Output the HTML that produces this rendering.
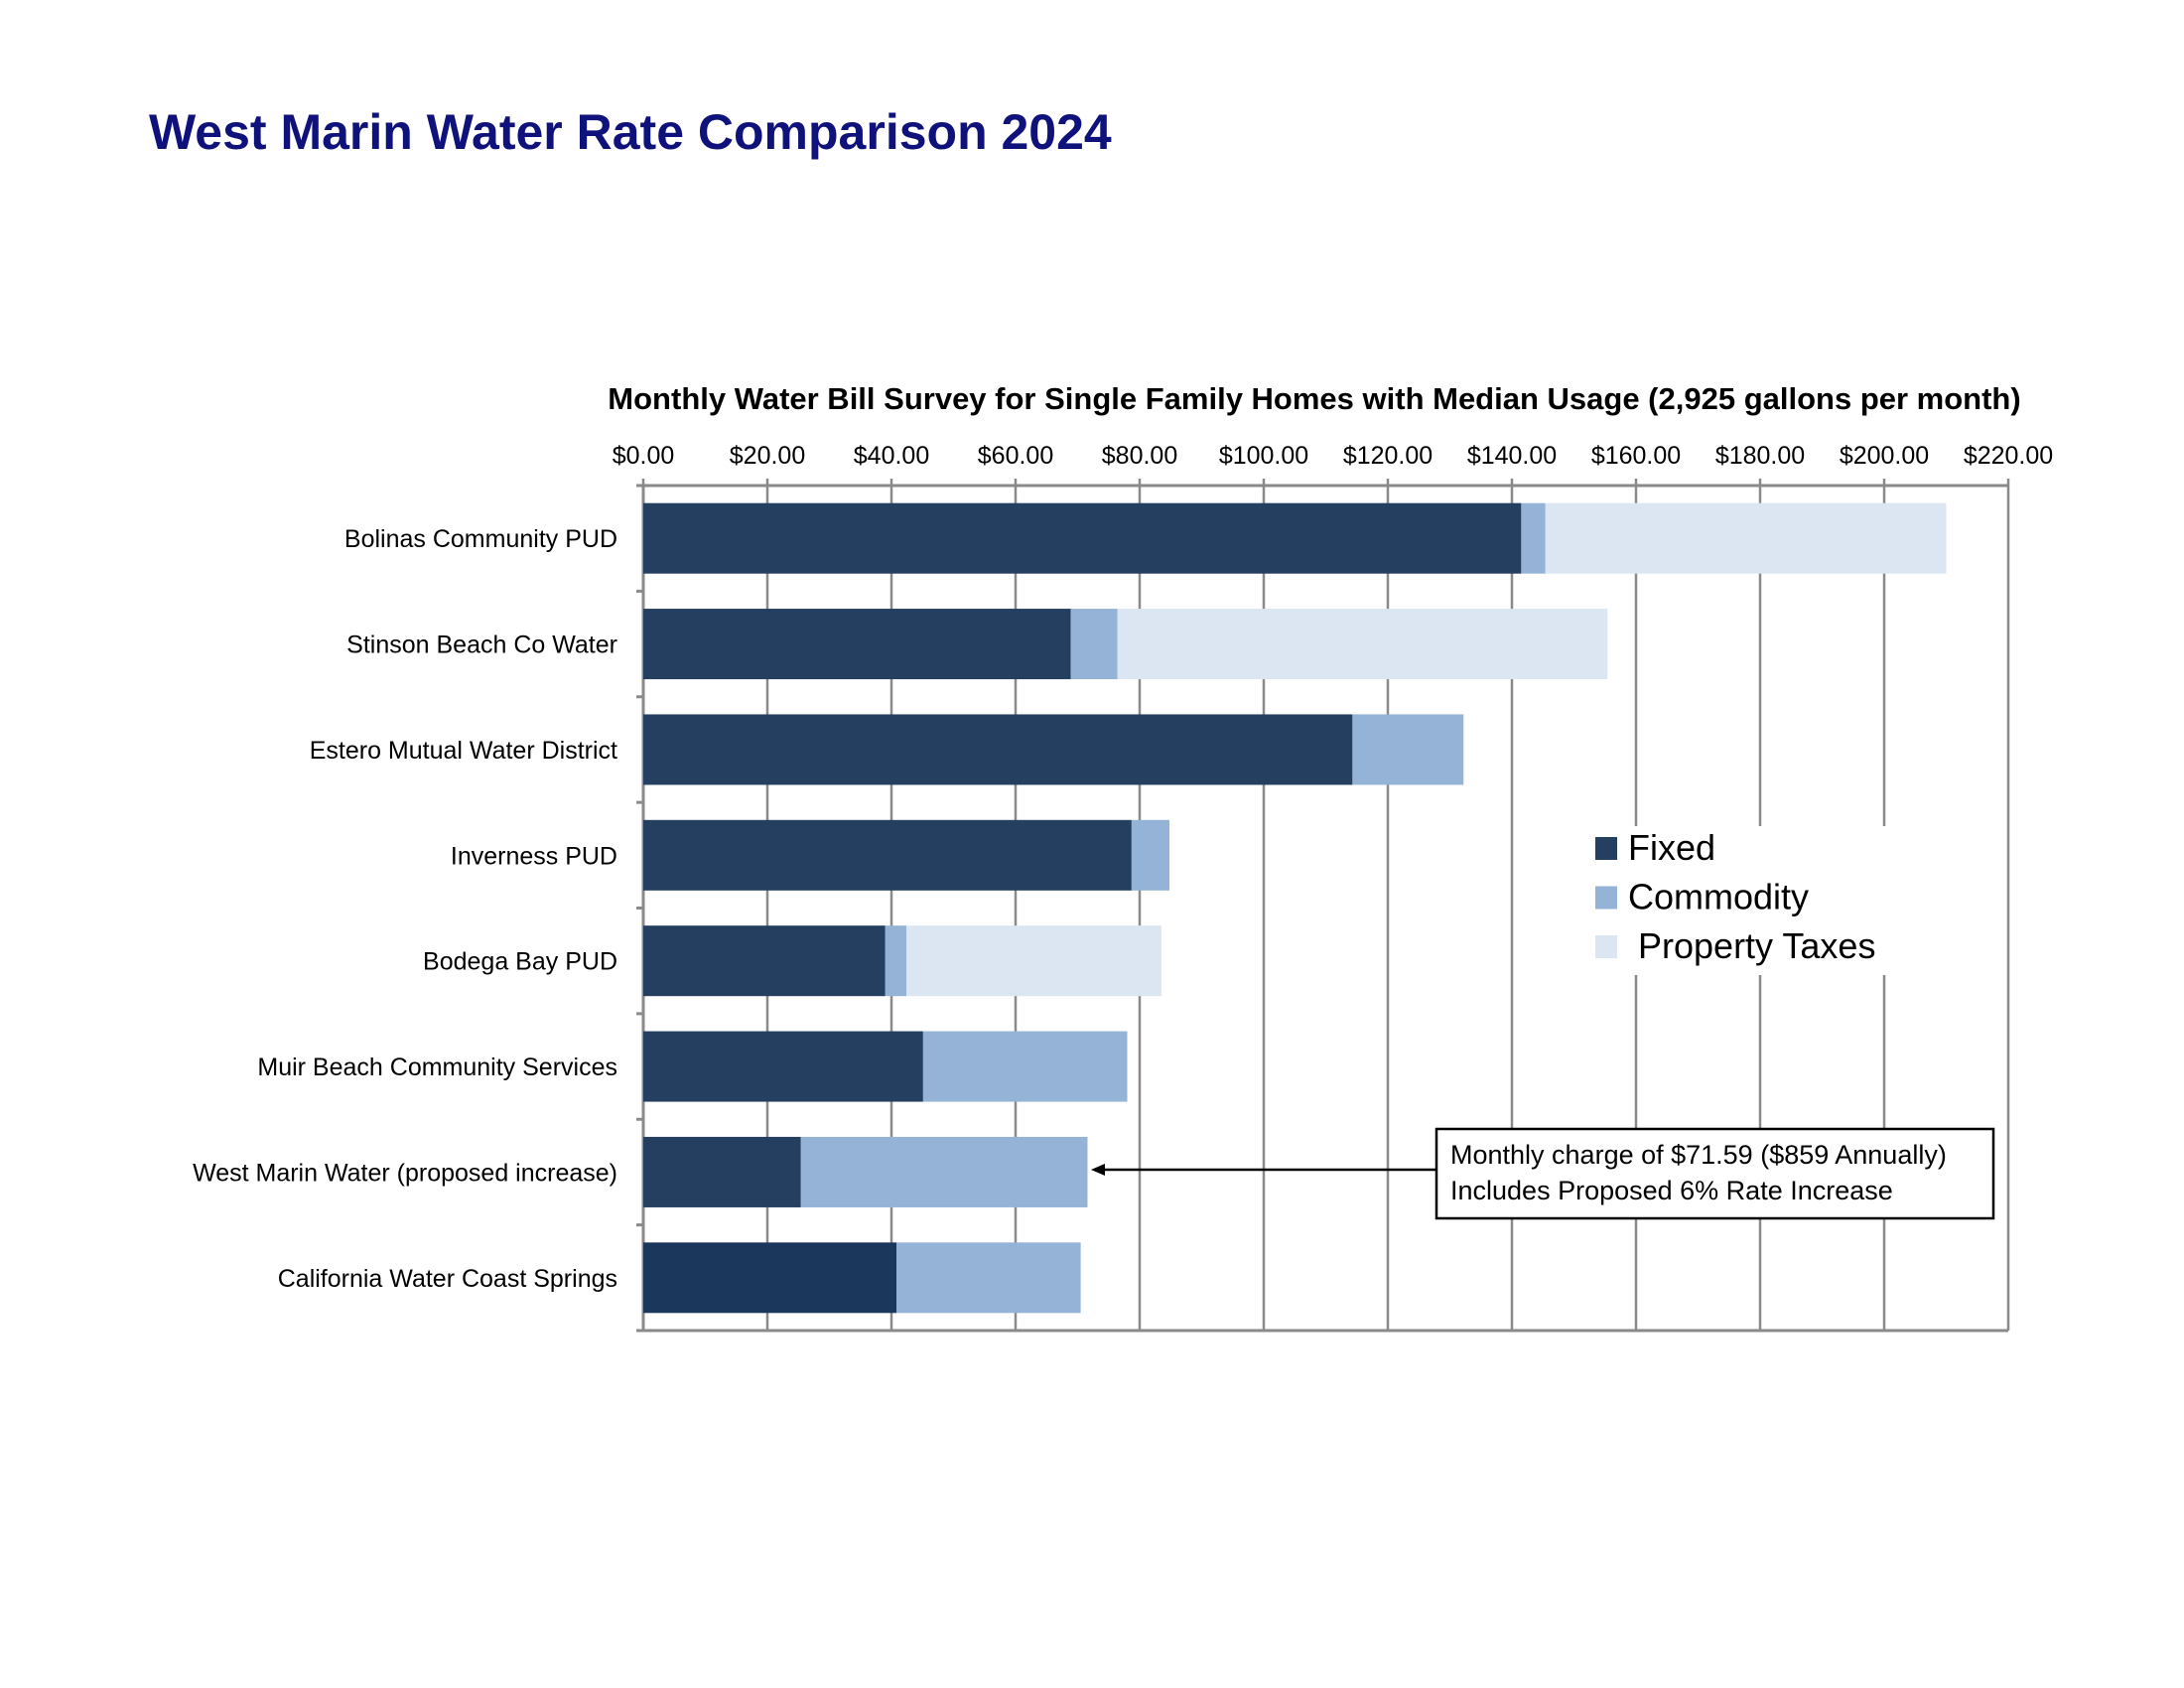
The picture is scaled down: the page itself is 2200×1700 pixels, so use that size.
<!DOCTYPE html>
<html><head><meta charset="utf-8">
<style>
html,body{margin:0;padding:0;background:#fff;}
body{width:2200px;height:1700px;position:relative;overflow:hidden;font-family:"Liberation Sans",sans-serif;}
#title{position:absolute;left:150px;top:105px;font-size:50px;font-weight:bold;color:#0f127a;margin:0;line-height:1.15;}
svg{position:absolute;left:0;top:0;}
</style></head><body>
<h1 id="title">West Marin Water Rate Comparison 2024</h1>
<svg id="chart" width="2200" height="1700"></svg>
<script>
const categories=["Bolinas Community PUD","Stinson Beach Co Water","Estero Mutual Water District","Inverness PUD","Bodega Bay PUD","Muir Beach Community Services","West Marin Water (proposed increase)","California Water Coast Springs"];
const fixedVals=[141.5,68.9,114.3,78.7,39.0,45.1,25.4,40.8];
const commodityVals=[3.9,7.5,17.9,6.1,3.4,32.9,46.2,29.7];
const taxVals=[64.6,79.0,0,0,41.1,0,0,0];
const ticks=[0,20,40,60,80,100,120,140,160,180,200,220];
const tickLabels=["$0.00","$20.00","$40.00","$60.00","$80.00","$100.00","$120.00","$140.00","$160.00","$180.00","$200.00","$220.00"];
const seriesNames=["Fixed","Commodity","Property Taxes"];

const NS="http://www.w3.org/2000/svg";
const svg=document.getElementById('chart');
const L=648,R=2023,T=489,B=1340,MAX=220;
const band=(B-T)/categories.length, barH=71;
const x=v=>L+(v/MAX)*(R-L);
const yb=i=>T+i*band+(band-barH)/2;
function el(tag,attrs,parent){const e=document.createElementNS(NS,tag);for(const k in attrs)e.setAttribute(k,attrs[k]);(parent||svg).appendChild(e);return e;}

const ct=el('text',{x:1324,y:412,'text-anchor':'middle','font-size':31,'font-weight':'bold',fill:'#000'});


ct.textContent="Monthly Water Bill Survey for Single Family Homes with Median Usage (2,925 gallons per month)";

ticks.forEach((t,i)=>{
  const g=el('line',{x1:x(t),x2:x(t),y1:T-7,y2:B,stroke:'#8a8a8a','stroke-width':2.5});
  
  
  const tl=el('text',{x:x(t),y:467,'text-anchor':'middle','font-size':25,fill:'#000'});
  
  
  tl.textContent=tickLabels[i];
});
const ax=el('line',{x1:L-6,x2:R,y1:T,y2:T,stroke:'#8a8a8a','stroke-width':3});


const bx=el('line',{x1:L-6,x2:R,y1:B,y2:B,stroke:'#8a8a8a','stroke-width':3});


const ay=el('line',{x1:L,x2:L,y1:T,y2:B,stroke:'#8a8a8a','stroke-width':3});


for(let i=0;i<=categories.length;i++){
  const tk=el('line',{x1:L-7,x2:L,y1:T+i*band,y2:T+i*band,stroke:'#8a8a8a','stroke-width':3});
  
  
}
categories.forEach((c,i)=>{
  const y=yb(i);
  const f=el('rect',{x:x(0),y:y,width:x(fixedVals[i])-x(0),height:barH,fill:i===7?'#1b375c':'#243f60'});
  
  
  const c1=fixedVals[i]+commodityVals[i];
  const m=el('rect',{x:x(fixedVals[i]),y:y,width:x(c1)-x(fixedVals[i]),height:barH,fill:'#95b3d7'});
  
  
  if(taxVals[i]>0){
    const p=el('rect',{x:x(c1),y:y,width:x(c1+taxVals[i])-x(c1),height:barH,fill:'#dce6f2'});
    
    
  }
  const lb=el('text',{x:622,y:y+barH/2+9,'text-anchor':'end','font-size':25,fill:'#000'});
  
  
  lb.textContent=c;
});

// legend
const lg=el('g',{});


el('rect',{x:1598,y:832,width:345,height:150,fill:'#fff'},lg);
const lcol=['#243f60','#95b3d7','#dce6f2'];
seriesNames.forEach((n,i)=>{
  const yy=843+i*49.5;
  const sw=el('rect',{x:1607,y:yy,width:22,height:23,fill:lcol[i]},lg);
  
  
  const t=el('text',{x:i===2?1650:1640,y:yy+23,'font-size':36,fill:'#000'},lg);
  
  
  t.textContent=n;
});

// annotation
const an=el('g',{});


el('rect',{x:1447,y:1137,width:561,height:90,fill:'#fff',stroke:'#000','stroke-width':2.5},an);
el('line',{x1:1447,x2:1112,y1:1178,y2:1178,stroke:'#000','stroke-width':2.5},an);
el('polygon',{points:'1099,1178 1113,1172 1113,1184',fill:'#000'},an);
const a1=el('text',{x:1461,y:1172,'font-size':27,fill:'#000'},an);
a1.textContent="Monthly charge of $71.59 ($859 Annually)";
const a2=el('text',{x:1461,y:1208,'font-size':27,fill:'#000'},an);
a2.textContent="Includes Proposed 6% Rate Increase";
</script>
</body></html>
